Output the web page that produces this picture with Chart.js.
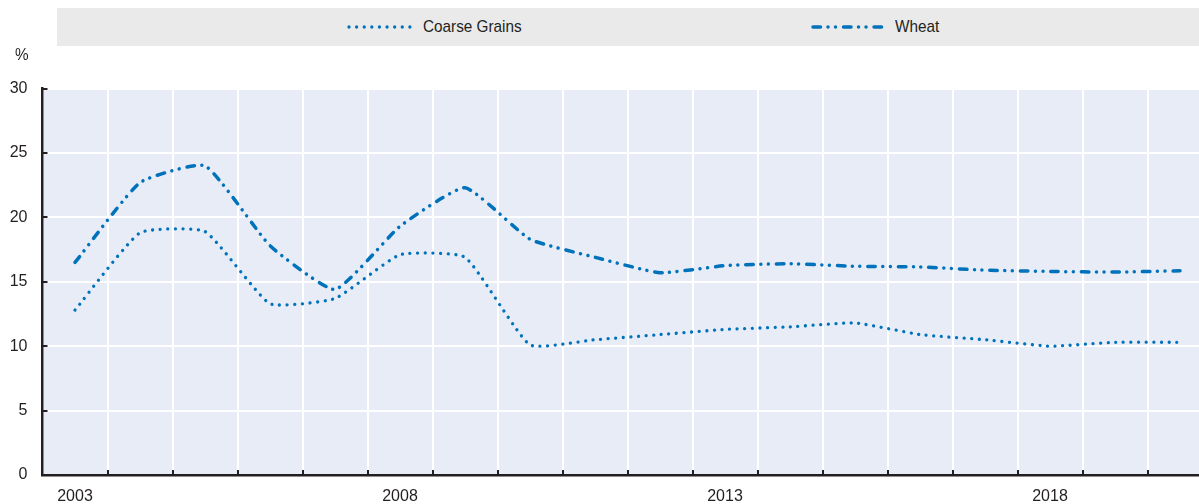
<!DOCTYPE html>
<html>
<head>
<meta charset="utf-8">
<script src="https://cdn.jsdelivr.net/npm/chart.js@4.4.1/dist/chart.umd.min.js"></script>
<style>
  html, body { margin: 0; padding: 0; background: #fff; overflow: hidden; }
  #wrap { position: relative; width: 1199px; height: 504px; overflow: hidden; }
  #chart { position: absolute; left: 0; top: 0; }
  .ff { font-family: "Liberation Sans", Arial, sans-serif; color: #231f20; }
  #legend { position: absolute; left: 57px; top: 8px; width: 1142px; height: 38px; background: #eaeaea; }
  .item { position: absolute; top: 0; height: 38px; display: flex; align-items: center; font-size: 17px; }
  .item svg { margin-right: 9px; }
  .item span { display: inline-block; transform: scaleX(0.9); transform-origin: left center; }
  #unit { position: absolute; left: 15px; top: 45px; font-size: 17px; transform: scaleX(0.9); transform-origin: left center; }
</style>
</head>
<body>
<div id="wrap">
  <canvas id="chart" width="1240" height="504"></canvas>
  <div id="legend" class="ff">
    <div class="item" id="li0" style="left:289px"></div>
    <div class="item" id="li1" style="left:753px"></div>
  </div>
  <div id="unit" class="ff">%</div>
</div>
<script>
// ---- data ----
const categories = ["2003","2004","2005","2006","2007","2008","2009","2010","2011","2012","2013","2014","2015","2016","2017","2018","2019","2020"];
const shownLabels = ["2003","2008","2013","2018"];
const coarseGrains = [12.8, 18.8, 18.9, 13.3, 13.7, 17.1, 16.9, 10.1, 10.5, 10.9, 11.3, 11.5, 11.8, 10.9, 10.5, 10.0, 10.3, 10.3];
const wheat = [16.5, 22.7, 24.0, 17.8, 14.4, 19.3, 22.3, 18.3, 16.9, 15.7, 16.25, 16.4, 16.2, 16.15, 15.9, 15.8, 15.75, 15.85];
const yTicks = [0, 5, 10, 15, 20, 25, 30];
const seriesNames = ["Coarse Grains", "Wheat"];

const BLUE = '#0072bb';
const AXIS = '#231f20';
const FONT = '"Liberation Sans", Arial, sans-serif';
const dashCoarse = [0.01, 7.6];
const dashWheat = [7.5, 7.5, 0.01, 7.5, 0.01, 8];

// legend (HTML)
function legendItem(id, name, dash, w, len) {
  const el = document.getElementById(id);
  el.innerHTML = '<svg width="' + (len + 6) + '" height="10"><line x1="3" y1="5" x2="' + (len + 3) + '" y2="5" stroke="' + BLUE +
    '" stroke-width="' + w + '" stroke-linecap="round" stroke-dasharray="' + dash.join(' ') + '"/></svg><span>' + name + '</span>';
}
legendItem('li0', seriesNames[0], dashCoarse, 3.3, 62);
legendItem('li1', seriesNames[1], dashWheat, 3.5, 70);

const bgPlugin = {
  id: 'bg',
  beforeDraw(chart) {
    const a = chart.chartArea, c = chart.ctx;
    c.save(); c.fillStyle = '#e7ecf6'; c.fillRect(a.left, a.top, a.right - a.left, a.bottom - a.top); c.restore();
  },
  afterDraw(chart) {
    const a = chart.chartArea, c = chart.ctx, x = chart.scales.x, y = chart.scales.y;
    c.save(); c.strokeStyle = AXIS; c.lineWidth = 2;
    c.beginPath();
    for (let i = 0; i < categories.length - 1; i++) {
      const px = Math.round((x.getPixelForValue(i) + x.getPixelForValue(i + 1)) / 2);
      c.moveTo(px, a.bottom); c.lineTo(px, a.bottom - 5);
    }
    y.ticks.forEach(t => { const py = Math.round(y.getPixelForValue(t.value)); c.moveTo(a.left, py); c.lineTo(a.left + 5, py); });
    c.stroke(); c.restore();
  }
};

new Chart(document.getElementById('chart'), {
  type: 'line',
  data: {
    labels: categories,
    datasets: [
      { label: seriesNames[0], data: coarseGrains, borderColor: BLUE, borderWidth: 3.3, borderDash: dashCoarse, borderCapStyle: 'round',
        pointRadius: 0, tension: 0.15, fill: false },
      { label: seriesNames[1], data: wheat, borderColor: BLUE, borderWidth: 3.5, borderDash: dashWheat, borderCapStyle: 'round',
        pointRadius: 0, tension: 0.15, fill: false }
    ]
  },
  options: {
    responsive: false,
    animation: false,
    devicePixelRatio: 1,
    layout: { padding: { top: 88.5, right: 27.5, bottom: 0, left: 0 } },
    plugins: { legend: { display: false }, tooltip: { enabled: false }, title: { display: false } },
    scales: {
      x: {
        type: 'category',
        offset: true,
        grid: { offset: true, color: '#ffffff', lineWidth: 2, drawTicks: false },
        border: { color: AXIS, width: 2.5 },
        ticks: {
          autoSkip: false, maxRotation: 0, padding: 12, color: AXIS,
          font: { family: FONT, size: 16 },
          callback(v, i) { const l = categories[i]; return shownLabels.includes(l) ? l : ''; }
        },
        afterFit(s) { s.height = 29; }
      },
      y: {
        min: 0, max: 30,
        afterBuildTicks(s) { s.ticks = yTicks.map(v => ({ value: v })); },
        grid: { color: '#ffffff', lineWidth: 2, drawTicks: false },
        border: { color: AXIS, width: 2.5 },
        ticks: { padding: 15, color: AXIS, font: { family: FONT, size: 16 } },
        afterFit(s) { s.width = 42.5; }
      }
    }
  },
  plugins: [bgPlugin]
});
</script>
</body>
</html>
